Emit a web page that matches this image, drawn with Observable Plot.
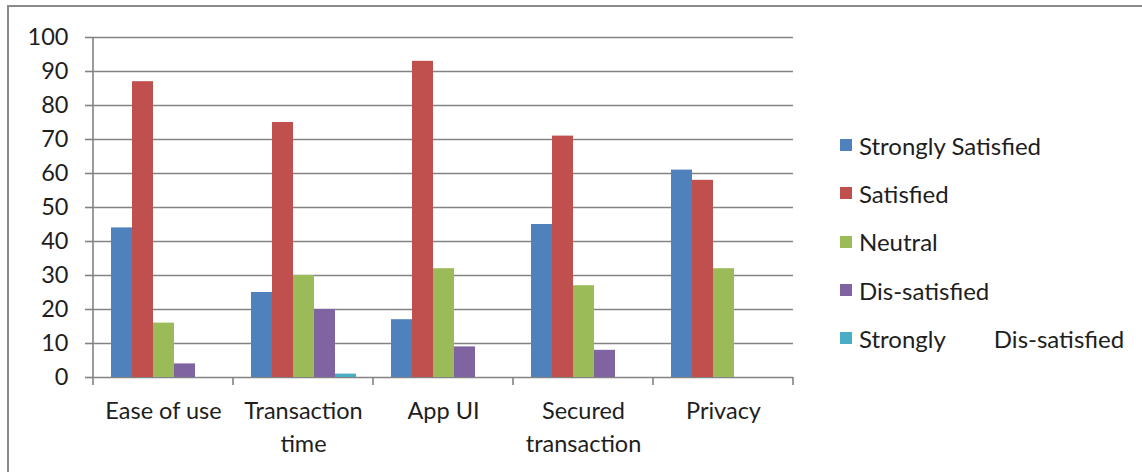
<!DOCTYPE html>
<html><head><meta charset="utf-8">
<script src="https://cdn.jsdelivr.net/npm/d3@7"></script>
<script src="https://cdn.jsdelivr.net/npm/@observablehq/plot@0.6"></script>
<style>
body{margin:0;background:#fff;font-family:Lato,sans-serif;}
#wrap{position:relative;width:1142px;height:472px;overflow:hidden;background:#fff;}
#frame{position:absolute;left:7px;top:5px;right:-5px;bottom:-5px;border-top:2px solid #8a8a8a;border-left:2px solid #8a8a8a;}
#chart{position:absolute;left:0;top:0;}
#legend{position:absolute;left:840px;top:121px;font-family:Lato,sans-serif;font-size:24px;color:#1e1e1e;}
.row{height:48.3px;display:flex;align-items:center;white-space:nowrap;}
.sw{width:12px;height:12px;margin-right:7px;flex:none;}
.gap{margin-left:48px;}
</style></head>
<body>
<div id="wrap"><div id="frame"></div><div id="chart"></div><div id="legend"></div></div>
<script>
const categories = ["Ease of use", "Transaction time", "App UI", "Secured transaction", "Privacy"];
const categoryLabels = ["Ease of use", "Transaction\ntime", "App UI", "Secured\ntransaction", "Privacy"];
const seriesNames = ["Strongly Satisfied", "Satisfied", "Neutral", "Dis-satisfied", "Strongly Dis-satisfied"];
const legendLabels = [["Strongly Satisfied"], ["Satisfied"], ["Neutral"], ["Dis-satisfied"], ["Strongly", "Dis-satisfied"]];
const colors = ["#4F81BD", "#C0504D", "#9BBB59", "#8064A2", "#4BACC6"];
const stronglySatisfied = [44, 25, 17, 45, 61];
const satisfied = [87, 75, 93, 71, 58];
const neutral = [16, 30, 32, 27, 32];
const disSatisfied = [4, 20, 9, 8, 0];
const stronglyDisSatisfied = [0, 1, 0, 0, 0];
const yTicks = [0, 10, 20, 30, 40, 50, 60, 70, 80, 90, 100];

const seriesValues = [stronglySatisfied, satisfied, neutral, disSatisfied, stronglyDisSatisfied];
const data = [];
categories.forEach((c, i) => seriesNames.forEach((s, j) => data.push({category: c, series: s, value: seriesValues[j][i]})));

const gridColor = "#838383";
const plot = Plot.plot({
  width: 1142, height: 472,
  marginLeft: 91, marginRight: 347, marginTop: 37, marginBottom: 95,
  fx: {domain: categories, paddingInner: 0, paddingOuter: 0, label: null, axis: null},
  x: {domain: seriesNames, paddingInner: 0, paddingOuter: 0.72, axis: null},
  y: {domain: [0, 100]},
  color: {domain: seriesNames, range: colors},
  style: {fontFamily: "Lato, sans-serif", fontSize: "23.5px", color: "#1e1e1e", background: "transparent"},
  marks: [
    Plot.ruleY(yTicks, {stroke: gridColor, strokeWidth: 1.6, strokeOpacity: 1}),
    Plot.barY(data, {fx: "category", x: "series", y: "value", fill: "series"}),
    Plot.axisY({ticks: yTicks, tickSize: 8, tickPadding: 17, stroke: gridColor, strokeWidth: 1.6, strokeOpacity: 1, label: null, fontSize: 23.5}),
    Plot.axisFx({anchor: "bottom", tickSize: 0, tickPadding: 18, label: null, fontSize: 23.5, lineHeight: 1.4,
      tickFormat: c => categoryLabels[categories.indexOf(c)]})
  ]
});
document.getElementById("chart").appendChild(plot);

// y axis line and category boundary ticks through the plot's scales
const fx = plot.scale("fx"), y = plot.scale("y");
const svg = d3.select(plot);
const g = svg.append("g").attr("stroke", gridColor).attr("stroke-width", 1.6);
const x0 = fx.apply(categories[0]);
g.append("line").attr("x1", x0).attr("x2", x0).attr("y1", y.apply(0)).attr("y2", y.apply(100));
const bounds = categories.map(c => fx.apply(c)).concat([fx.apply(categories[categories.length - 1]) + fx.bandwidth]);
bounds.forEach(b => g.append("line").attr("x1", b).attr("x2", b).attr("y1", y.apply(0)).attr("y2", y.apply(0) + 8));

const legend = d3.select("#legend");
seriesNames.forEach((s, i) => {
  const r = legend.append("div").attr("class", "row");
  r.append("div").attr("class", "sw").style("background", colors[i]);
  legendLabels[i].forEach((t, k) => r.append("span").attr("class", k ? "gap" : null).text(t));
});
</script>
</body></html>
